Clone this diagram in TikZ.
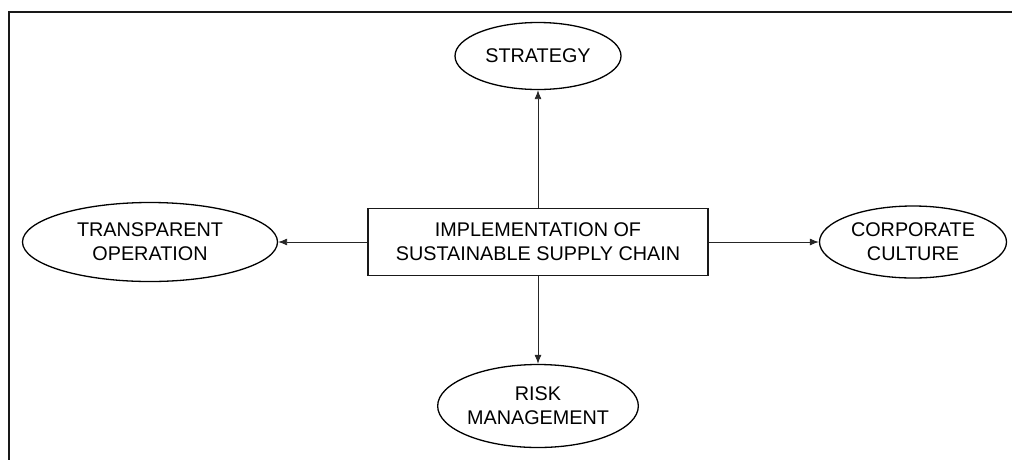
\documentclass[tikz,border=0pt]{standalone}
\usepackage{fontspec}
\setmainfont{Liberation Sans}
\usetikzlibrary{shapes.geometric,arrows.meta}
\begin{document}
\begin{tikzpicture}[x=1pt,y=-1pt,
  every node/.style={font=\fontsize{19.8}{24}\selectfont, align=center, inner sep=0pt, text=black},
  oval/.style={ellipse, draw=black, line width=1.3pt},
  mainbox/.style={rectangle, draw=black!90, line width=1.6pt},
  link/.style={draw=black!85, line width=0.9pt, -{Latex[length=9pt,width=7pt]}}]
  \useasboundingbox (0,0) rectangle (1012,459);
  % outer frame (only its top and left edges fall inside the page)
  \draw[line width=2pt, black!90] (8.5,470) -- (8.5,11.5) -- (1020,11.5);
  % centre box and the four themes around it
  \node[mainbox, minimum width=340pt, minimum height=67pt] (c) at (538,242) {IMPLEMENTATION OF\\SUSTAINABLE SUPPLY CHAIN};
  \node[oval, minimum width=166pt, minimum height=67pt] (s) at (538,56) {STRATEGY};
  \node[oval, minimum width=255pt, minimum height=79pt] (t) at (150,242) {TRANSPARENT\\OPERATION};
  \node[oval, minimum width=187pt, minimum height=72pt] (k) at (913,242) {CORPORATE\\CULTURE};
  \node[oval, minimum width=188pt, minimum height=83pt] (r) at (538,406) {RISK\\MANAGEMENT};
  % connectors
  \draw[link] (c.north) -- (s.south);
  \draw[link] (c.west) -- (t.east);
  \draw[link] (c.east) -- (k.west);
  \draw[link] (c.south) -- (r.north);
\end{tikzpicture}
\end{document}
